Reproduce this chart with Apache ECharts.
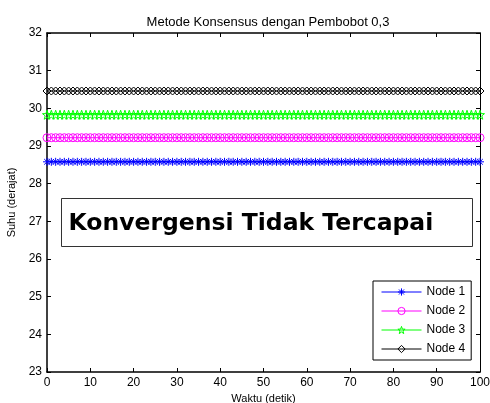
<!DOCTYPE html>
<html>
<head>
<meta charset="utf-8">
<script src="https://cdn.jsdelivr.net/npm/echarts@6/dist/echarts.min.js"></script>
<style>html,body{margin:0;padding:0;background:#fff}#c{width:490px;height:403px}</style>
</head>
<body>
<div id="c"></div>
<script>
const chartTitle = 'Metode Konsensus dengan Pembobot 0,3';
const xName = 'Waktu (detik)';
const yName = 'Suhu (derajat)';
const annotation = 'Konvergensi Tidak Tercapai';
const seriesNames = ['Node 1', 'Node 2', 'Node 3', 'Node 4'];
const xTicks = [0, 10, 20, 30, 40, 50, 60, 70, 80, 90, 100];
const yTicks = [23, 24, 25, 26, 27, 28, 29, 30, 31, 32];
const waktu = [
  0,1,2,3,4,5,6,7,8,9,
  10,11,12,13,14,15,16,17,18,19,
  20,21,22,23,24,25,26,27,28,29,
  30,31,32,33,34,35,36,37,38,39,
  40,41,42,43,44,45,46,47,48,49,
  50,51,52,53,54,55,56,57,58,59,
  60,61,62,63,64,65,66,67,68,69,
  70,71,72,73,74,75,76,77,78,79,
  80,81,82,83,84,85,86,87,88,89,
  90,91,92,93,94,95,96,97,98,99,
  100
];
const node1 = [
  28.58,28.58,28.58,28.58,28.58,28.58,28.58,28.58,28.58,28.58,
  28.58,28.58,28.58,28.58,28.58,28.58,28.58,28.58,28.58,28.58,
  28.58,28.58,28.58,28.58,28.58,28.58,28.58,28.58,28.58,28.58,
  28.58,28.58,28.58,28.58,28.58,28.58,28.58,28.58,28.58,28.58,
  28.58,28.58,28.58,28.58,28.58,28.58,28.58,28.58,28.58,28.58,
  28.58,28.58,28.58,28.58,28.58,28.58,28.58,28.58,28.58,28.58,
  28.58,28.58,28.58,28.58,28.58,28.58,28.58,28.58,28.58,28.58,
  28.58,28.58,28.58,28.58,28.58,28.58,28.58,28.58,28.58,28.58,
  28.58,28.58,28.58,28.58,28.58,28.58,28.58,28.58,28.58,28.58,
  28.58,28.58,28.58,28.58,28.58,28.58,28.58,28.58,28.58,28.58,
  28.58
];
const node2 = [
  29.22,29.22,29.22,29.22,29.22,29.22,29.22,29.22,29.22,29.22,
  29.22,29.22,29.22,29.22,29.22,29.22,29.22,29.22,29.22,29.22,
  29.22,29.22,29.22,29.22,29.22,29.22,29.22,29.22,29.22,29.22,
  29.22,29.22,29.22,29.22,29.22,29.22,29.22,29.22,29.22,29.22,
  29.22,29.22,29.22,29.22,29.22,29.22,29.22,29.22,29.22,29.22,
  29.22,29.22,29.22,29.22,29.22,29.22,29.22,29.22,29.22,29.22,
  29.22,29.22,29.22,29.22,29.22,29.22,29.22,29.22,29.22,29.22,
  29.22,29.22,29.22,29.22,29.22,29.22,29.22,29.22,29.22,29.22,
  29.22,29.22,29.22,29.22,29.22,29.22,29.22,29.22,29.22,29.22,
  29.22,29.22,29.22,29.22,29.22,29.22,29.22,29.22,29.22,29.22,
  29.22
];
const node3 = [
  29.83,29.83,29.83,29.83,29.83,29.83,29.83,29.83,29.83,29.83,
  29.83,29.83,29.83,29.83,29.83,29.83,29.83,29.83,29.83,29.83,
  29.83,29.83,29.83,29.83,29.83,29.83,29.83,29.83,29.83,29.83,
  29.83,29.83,29.83,29.83,29.83,29.83,29.83,29.83,29.83,29.83,
  29.83,29.83,29.83,29.83,29.83,29.83,29.83,29.83,29.83,29.83,
  29.83,29.83,29.83,29.83,29.83,29.83,29.83,29.83,29.83,29.83,
  29.83,29.83,29.83,29.83,29.83,29.83,29.83,29.83,29.83,29.83,
  29.83,29.83,29.83,29.83,29.83,29.83,29.83,29.83,29.83,29.83,
  29.83,29.83,29.83,29.83,29.83,29.83,29.83,29.83,29.83,29.83,
  29.83,29.83,29.83,29.83,29.83,29.83,29.83,29.83,29.83,29.83,
  29.83
];
const node4 = [
  30.46,30.46,30.46,30.46,30.46,30.46,30.46,30.46,30.46,30.46,
  30.46,30.46,30.46,30.46,30.46,30.46,30.46,30.46,30.46,30.46,
  30.46,30.46,30.46,30.46,30.46,30.46,30.46,30.46,30.46,30.46,
  30.46,30.46,30.46,30.46,30.46,30.46,30.46,30.46,30.46,30.46,
  30.46,30.46,30.46,30.46,30.46,30.46,30.46,30.46,30.46,30.46,
  30.46,30.46,30.46,30.46,30.46,30.46,30.46,30.46,30.46,30.46,
  30.46,30.46,30.46,30.46,30.46,30.46,30.46,30.46,30.46,30.46,
  30.46,30.46,30.46,30.46,30.46,30.46,30.46,30.46,30.46,30.46,
  30.46,30.46,30.46,30.46,30.46,30.46,30.46,30.46,30.46,30.46,
  30.46,30.46,30.46,30.46,30.46,30.46,30.46,30.46,30.46,30.46,
  30.46
];

const colors = ['#0000ff', '#ff00ff', '#00ff00', '#000000'];
const asterisk = 'path://M0,-10L0,10M-10,0L10,0M-7,-7L7,7M-7,7L7,-7';
const star = 'path://M0,-10L2.35,-3.24L9.51,-3.09L3.8,1.24L5.88,8.09L0,4L-5.88,8.09L-3.8,1.24L-9.51,-3.09L-2.35,-3.24Z';
const symbols = [asterisk, 'circle', star, 'diamond'];
const symbolSizes = [8, 8, 9, 8];
const allData = [node1, node2, node3, node4];

const chart = echarts.init(document.getElementById('c'), null, {renderer: 'canvas'});
const FONT = 'Liberation Sans';

function makeSeries(i) {
  return {
    name: seriesNames[i],
    type: 'line',
    data: waktu.map((t, k) => [t, allData[i][k]]),
    symbol: symbols[i],
    symbolSize: symbolSizes[i],
    showAllSymbol: true,
    animation: false,
    lineStyle: {color: colors[i], width: 1},
    itemStyle: {color: 'rgba(0,0,0,0)', borderColor: colors[i], borderWidth: 1},
    emphasis: {disabled: true}
  };
}

const axisCommon = {
  type: 'value',
  splitLine: {show: false},
  axisTick: {inside: true, length: 4, lineStyle: {color: '#000', width: 1}},
  axisLabel: {color: '#000', fontFamily: FONT, fontSize: 11}
};

const option = {
  backgroundColor: '#fff',
  animation: false,
  title: {
    text: chartTitle,
    left: 263,
    textAlign: 'center',
    top: 11,
    textStyle: {fontFamily: FONT, fontSize: 13, fontWeight: 'normal', color: '#000'}
  },
  grid: {left: 47, right: 10, top: 33, bottom: 31, containLabel: false, outerBoundsMode: 'none'},
  legend: {
    data: seriesNames.map((n, i) => ({
      name: n,
      itemStyle: {color: 'rgba(0,0,0,0)', borderColor: colors[i], borderWidth: 1},
      lineStyle: {color: colors[i], width: 1}
    })),
    orient: 'vertical',
    left: 373,
    top: 281,
    width: 102,
    padding: [5, 6, 5, 8],
    itemGap: 7,
    itemWidth: 40,
    itemHeight: 9,
    backgroundColor: '#fff',
    borderColor: '#000',
    borderWidth: 1,
    textStyle: {fontFamily: FONT, fontSize: 12, color: '#000', padding: [0, 0, 0, 0]}
  },
  xAxis: [
    Object.assign({}, axisCommon, {
      position: 'bottom', min: 0, max: 100, interval: 10,
      name: xName, nameLocation: 'middle', nameGap: 19,
      nameTextStyle: {fontFamily: FONT, fontSize: 11, color: '#000'},
      axisLine: {onZero: false, lineStyle: {color: '#000', width: 1.5}},
      axisLabel: {color: '#000', fontFamily: FONT, fontSize: 12, margin: 5}
    }),
    Object.assign({}, axisCommon, {
      position: 'top', min: 0, max: 100, interval: 10,
      axisLine: {onZero: false, lineStyle: {color: '#000', width: 1.5}},
      axisLabel: {show: false}
    })
  ],
  yAxis: [
    Object.assign({}, axisCommon, {
      position: 'left', min: 23, max: 32, interval: 1,
      name: yName, nameLocation: 'middle', nameGap: 30, nameRotate: 90,
      nameTextStyle: {fontFamily: FONT, fontSize: 11, color: '#000'},
      axisLine: {onZero: false, lineStyle: {color: '#000', width: 1.5}},
      axisLabel: {color: '#000', fontFamily: FONT, fontSize: 12, margin: 5}
    }),
    Object.assign({}, axisCommon, {
      position: 'right', min: 23, max: 32, interval: 1,
      axisLine: {onZero: false, lineStyle: {color: '#000', width: 1}},
      axisLabel: {show: false}
    })
  ],
  series: [0, 1, 2, 3].map(makeSeries),
  graphic: [
    {
      type: 'group',
      left: 61,
      top: 198,
      children: [
        {type: 'rect', shape: {x: 0, y: 0, width: 411, height: 48},
         style: {fill: '#fff', stroke: '#333', lineWidth: 1}},
        {type: 'text', x: 7, y: 25,
         style: {text: annotation, fill: '#000', font: 'bold 23.5px "DejaVu Sans"', verticalAlign: 'middle', textAlign: 'left'}}
      ]
    }
  ]
};
chart.setOption(option);
</script>
</body>
</html>
